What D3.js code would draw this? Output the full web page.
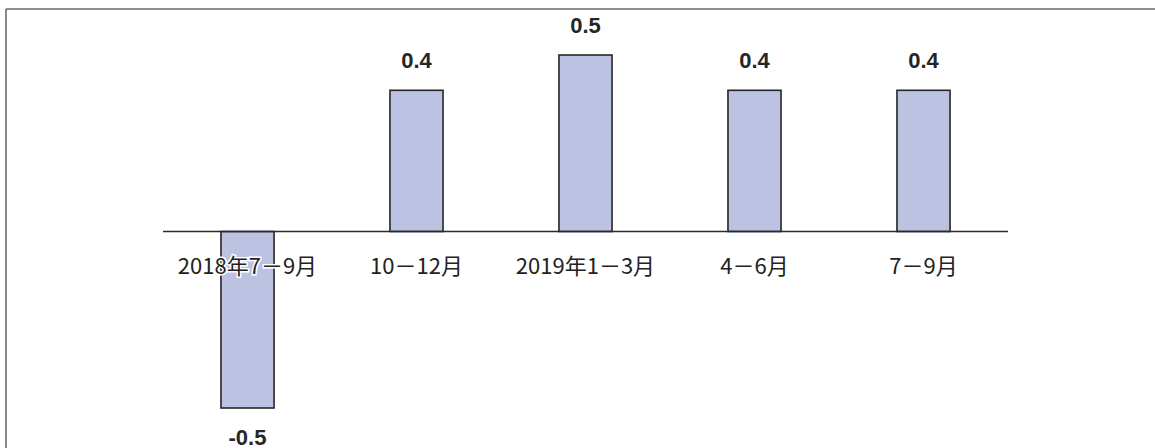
<!DOCTYPE html>
<html>
<head>
<meta charset="utf-8">
<script src="https://cdn.jsdelivr.net/npm/d3@7"></script>
<style>
  html, body { margin: 0; padding: 0; background: #fff; }
  svg { display: block; }
</style>
</head>
<body>
<svg id="chart" width="1155" height="448"></svg>
<script>
// Quarterly values (percent)
const categories = ["2018年7－9月", "10－12月", "2019年1－3月", "4－6月", "7－9月"];
const values = [-0.5, 0.4, 0.5, 0.4, 0.4];
const valueLabels = ["-0.5", "0.4", "0.5", "0.4", "0.4"];

const svg = d3.select("#chart");
const W = 1155, H = 448;

// frame lines (top and left)
svg.append("line").attr("x1", 6).attr("x2", W).attr("y1", 9).attr("y2", 9)
  .attr("stroke", "#6b6b6b").attr("stroke-width", 1.6);
svg.append("line").attr("x1", 6).attr("x2", 6).attr("y1", 9).attr("y2", H)
  .attr("stroke", "#6b6b6b").attr("stroke-width", 1.6);

const x = d3.scaleBand()
  .domain(categories)
  .range([163, 1008])
  .paddingInner(0.686)
  .paddingOuter(0.343);

const y = d3.scaleLinear()
  .domain([-0.5, 0.5])
  .range([408, 55]);

// bars
svg.append("g").selectAll("rect")
  .data(values)
  .join("rect")
  .attr("x", (d, i) => x(categories[i]))
  .attr("width", x.bandwidth())
  .attr("y", d => Math.min(y(d), y(0)))
  .attr("height", d => Math.abs(y(d) - y(0)))
  .attr("fill", "#bcc2e2")
  .attr("stroke", "#262626")
  .attr("stroke-width", 1.6);

// zero line
svg.append("line")
  .attr("x1", x.range()[0]).attr("x2", x.range()[1])
  .attr("y1", y(0)).attr("y2", y(0))
  .attr("stroke", "#2b2b2b").attr("stroke-width", 1.6);

// category labels
svg.append("g").selectAll("text")
  .data(categories)
  .join("text")
  .attr("x", d => x(d) + x.bandwidth() / 2)
  .attr("y", y(0) + 42)
  .attr("text-anchor", "middle")
  .attr("font-family", "'Noto Sans CJK JP', sans-serif")
  .attr("font-size", 22)
  .attr("fill", "#222")
  .attr("stroke", "#fff")
  .attr("stroke-width", 3)
  .attr("paint-order", "stroke")
  .text(d => d);

// value labels
svg.append("g").selectAll("text")
  .data(values)
  .join("text")
  .attr("x", (d, i) => x(categories[i]) + x.bandwidth() / 2)
  .attr("y", d => d >= 0 ? y(d) - 22 : y(d) + 37)
  .attr("text-anchor", "middle")
  .attr("font-family", "'Liberation Sans', Arial, sans-serif")
  .attr("font-weight", "bold")
  .attr("font-size", 22)
  .attr("fill", "#262626")
  .text((d, i) => valueLabels[i]);
</script>
</body>
</html>
